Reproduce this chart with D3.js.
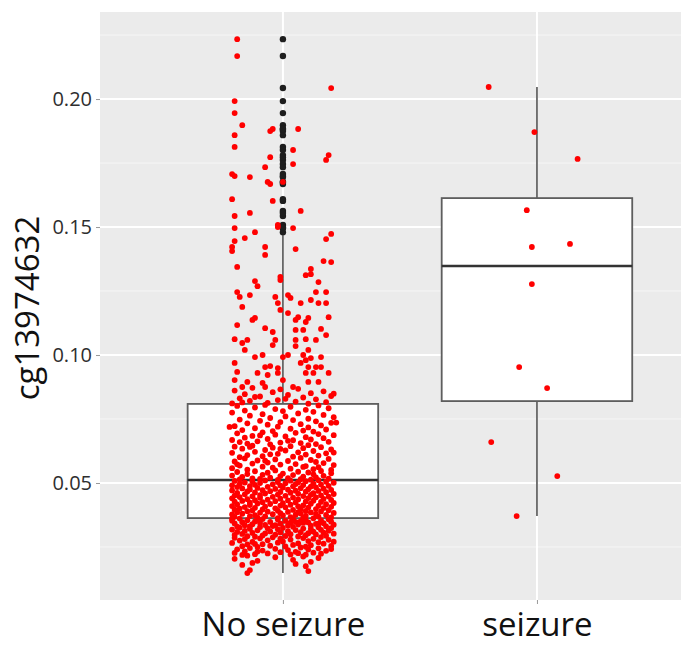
<!DOCTYPE html>
<html>
<head>
<meta charset="utf-8">
<script src="https://cdn.jsdelivr.net/npm/d3@7"></script>
<style>
  html, body { margin: 0; padding: 0; background: #fff; }
  svg { display: block; font-family: "Open Sans", "Noto Sans", sans-serif; }
</style>
</head>
<body>
<div id="chart"></div>
<script>
// categories and axis ticks
const categories = ["No seizure", "seizure"];
const yTicks = [0.05, 0.10, 0.15, 0.20];
const yMinorTicks = [0.025, 0.075, 0.125, 0.175, 0.225];

// box stats: [lower whisker, q1, median, q3, upper whisker]
const noSeizureBox = [0.0148, 0.0363, 0.0512, 0.0809, 0.1478];
const seizureBox   = [0.0371, 0.0820, 0.1348, 0.1613, 0.2047];

// jittered points: [value x 1e4, jitter in % of category step]
const seizurePts = [
  [2047,-19],[1871,-1],[1766,16],[1566,-4],[1422,-2],[1434,13],
  [1277,-2],[953,-7],[871,4],[660,-18],[527,8],[371,-8]
];

const noSeizurePts = [
  // upper tail
  [2234,-18],[2168,-18],[2043,19],[1992,-19],[1945,-19],[1898,-16],[1883,-4],[1875,-5],
  [1883,6],[1859,-19],[1813,-19],[1801,4],[1781,18],[1762,17],[1773,-5],[1746,4],
  [1734,-7],[1707,-20],[1699,-19],[1695,-13],[1676,-6],[1668,-5],[1676,0],[1609,-20],
  [1602,-4],[1563,7],[1543,-19],[1555,-13],[1508,-2],[1500,-2],[1496,4],[1496,-19],
  [1480,-11],[1473,19],[1457,-15],[1453,17],[1445,-19],[1422,-20],[1422,-7],[1414,5],
  [1406,-20],[1391,-7],[1367,16],[1363,19],[1344,-18],[1336,11],
  // 0.087 - 0.131
  [1305,-1],[1293,-1],[1289,-11],[1269,-10],[1312,9],[1316,11],[1285,14],[1246,-18],
  [1234,-13],[1227,-17],[1227,-3],[1234,2],[1223,3],[1246,13],[1246,17],[1215,11],
  [1203,14],[1203,17],[1188,-16],[1203,-2],[1203,7],[1176,-1],[1164,2],[1145,-11],
  [1137,-12],[1148,6],[1145,10],[1129,9],[1148,18],[1117,-18],[1137,5],[1105,-7],
  [1090,-4],[1098,5],[1098,8],[1102,15],[1078,17],[1062,-19],[1059,-14],[1047,-16],
  [1059,-3],[1059,5],[1062,9],[1059,13],[1020,-15],[1039,-4],[1035,5],[1020,10],
  [992,-11],[1000,-8],[992,0],[1000,2],[1000,8],[988,11],[992,15],[980,9],
  [969,-19],[953,-7],[957,-5],[949,-2],[969,7],[953,10],[953,13],[953,15],
  [934,-18],[930,-10],[922,-6],[930,-2],[930,9],[930,12],[930,18],[902,-19],
  [895,-14],[891,-8],[902,0],[895,10],[895,14],[875,-16],[875,-7],[875,4],
  // 0.081 - 0.087
  [872,-12],[868,6],[861,-19],[858,16],[855,-4],[851,11],[847,-15],[844,2],[840,19],
  [838,-9],[834,8],[831,-17],[827,13],[824,-2],[821,-13],[818,5],[816,17],[813,-6],
  [811,-20],[810,10],[866,-1],[849,20],[836,-11],[829,1],[815,-16],
  // median - q3
  [805,-7],[803,14],[801,-18],[798,3],[795,-11],[792,18],[789,-3],[786,9],[783,-15],
  [781,0],[778,12],[775,-20],[772,6],[769,-8],[766,16],[763,-13],[760,1],[757,20],
  [754,-5],[751,10],
  [748,-17],[746,4],[743,-9],[741,13],[738,-1],[735,19],[733,-14],[730,7],[728,-6],
  [725,15],[722,-19],[720,-2],[717,10],[714,-11],[712,3],[709,17],[707,-16],[705,8],
  [703,-4],[701,12],[719,-21],[736,21],
  [698,-8],[696,5],[694,-18],[691,14],[689,-3],[687,20],[684,-12],[682,1],[679,9],
  [677,-15],[675,16],[672,-6],[670,11],[668,-20],[665,2],[663,-10],[661,18],[658,-1],
  [656,7],[654,-14],[652,13],[651,-5],[667,4],[686,-9],[660,-17],
  [648,10],[646,-12],[644,3],[642,-19],[640,15],[638,-4],[636,8],[634,-16],[631,19],
  [629,-7],[627,1],[625,12],[622,-11],[620,6],[618,-20],[616,17],[614,-2],[611,9],
  [609,-14],[607,14],[605,-8],[603,4],[601,-17],[633,-1],[619,20],[641,-13],[612,-5],
  [598,7],[596,-15],[594,18],[592,-3],[590,11],[588,-10],[586,2],[584,-19],[582,13],
  [580,-6],[578,16],[576,-12],[574,5],[572,-1],[570,20],[568,-17],[566,9],[564,-8],
  [562,14],[560,-4],[558,-20],[556,3],[554,12],[552,-14],[551,19],[587,-7],[573,-18],
  [563,8],
  [549,-3],[547,15],[546,-11],[544,6],[543,-18],[541,10],[540,-6],[538,19],[537,0],
  [535,-14],[534,12],[532,-8],[531,4],[529,-20],[528,16],[527,-1],[525,8],[524,-16],
  [522,13],[521,-5],[519,2],[518,-12],[517,18],[516,-9],[515,7],[514,-17],[513,11],
  [512,-2],
  // q1 - median
  [511,14],[510,-7],[509,3],[508,-19],[507,9],[506,-12],[505,17],[504,-2],[503,6],
  [502,-15],[501,20],[500,-9],[499,1],[498,12],[497,-17],[496,5],[495,-4],[494,15],
  [493,-11],[492,8],[491,-20],[490,-1],[489,18],[488,-13],[487,4],[486,11],[485,-6],
  [484,-18],[483,13],[482,0],[481,-10],
  [480,7],[479,-16],[478,16],[477,-3],[476,10],[475,-13],[474,2],[473,19],[472,-8],
  [471,-20],[470,5],[469,14],[468,-5],[467,-14],[466,9],[465,-1],[464,17],[463,-11],
  [462,3],[461,-18],[460,12],[459,-7],[458,6],[457,20],[456,-15],[455,-2],[454,11],
  [453,-9],[452,15],[451,-19],
  [450,1],[449,8],[448,-12],[447,18],[446,-4],[445,-17],[444,13],[443,4],[442,-9],
  [441,10],[440,-20],[439,-1],[438,16],[437,-14],[436,6],[435,-6],[434,19],[433,-11],
  [432,2],[431,12],[430,-16],[429,-3],[428,9],[427,-19],[426,15],[425,-8],[424,5],
  [423,-13],[422,20],[421,0],
  [420,-10],[419,11],[418,-5],[417,17],[416,-18],[415,3],[414,-13],[413,8],[412,-1],
  [411,14],[410,-20],[409,6],[408,-7],[407,19],[406,-15],[405,1],[404,10],[403,-11],
  [402,16],[401,-3],[400,-17],[399,7],[398,13],[397,-8],[396,-19],[395,4],[394,18],
  [393,-12],[392,-2],[391,9],
  [390,-14],[389,15],[388,-6],[387,2],[386,-18],[385,11],[384,-9],[383,20],[382,-1],
  [381,7],[380,-16],[379,13],[378,-4],[377,-20],[376,5],[375,17],[374,-11],[373,0],
  [372,9],[371,-13],[370,-7],[369,14],[368,-19],[367,3],[366,19],[365,-10],[364,8],
  [363,-2],[386,6],
  // below q1
  [362,12],[361,-17],[360,4],[359,-8],[358,18],[357,-2],[356,9],[355,-14],[354,15],
  [353,-20],[352,1],[351,7],[350,-11],[349,19],[348,-5],[347,-16],[346,10],[345,3],
  [344,-9],[343,16],[342,-19],[341,-1],[340,13],[339,-12],[338,6],[337,20],[336,-7],
  [335,-15],[334,2],[333,11],[332,-4],[331,17],[330,-18],[356,-10],[348,5],[341,14],
  [335,-3],[360,-20],[344,8],[331,-13],
  [329,4],[328,-9],[327,14],[326,-17],[325,0],[324,19],[323,-6],[322,8],[321,-13],
  [320,11],[319,-2],[318,-20],[317,15],[316,5],[315,-10],[314,18],[313,-15],[312,2],
  [311,-5],[310,12],[309,-18],[308,7],[307,-1],[306,16],[305,-12],[304,10],[303,-7],
  [302,20],[301,-16],[300,3],[299,13],[298,-3],[297,-19],[296,9],[295,-8],[294,17],
  [293,1],[292,-14],[291,6],[290,-11],
  [289,15],[288,-4],[286,-19],[285,8],[284,-9],[282,12],[281,-15],[279,3],[278,18],
  [276,-6],[275,-17],[273,10],[272,0],[270,-12],[269,14],[267,-2],[266,-20],[264,6],
  [263,16],[261,-8],[260,-14],[258,4],[257,11],[255,-5],[254,19],[253,-16],[252,1],
  [251,9],[250,-10],[271,20],[283,-1],[262,-11],
  [248,7],[246,-13],[245,14],[243,-3],[241,-18],[240,10],[238,2],[236,-8],[235,17],
  [233,-15],[231,5],[230,-1],[228,12],[227,-19],[225,-6],[224,15],[222,-11],[221,3],
  [220,9],[219,-16],[242,19],[232,-10],[226,6],
  [216,-14],[213,8],[210,-3],[207,14],[204,-19],[200,4],[196,-10],[192,11],[188,-12],
  [184,5],[180,-16],[175,9],[156,10],[160,-13],[148,-14]
];

const width = 681, height = 649;
const m = { top: 12, right: 0, bottom: 49, left: 100 };

const svg = d3.select("#chart").append("svg")
  .attr("width", width)
  .attr("height", height);

// x in category units (0 = No seizure, 1 = seizure)
const x = d3.scaleLinear()
  .domain([-0.72, 1.567])
  .range([m.left, width - m.right]);

const y = d3.scaleLinear()
  .domain([0.0043, 0.234])
  .range([height - m.bottom, m.top]);

// ----- panel background + grid -----
svg.append("rect")
  .attr("x", m.left).attr("y", m.top)
  .attr("width", width - m.left - m.right)
  .attr("height", height - m.top - m.bottom)
  .attr("fill", "#ebebeb");

svg.append("g").selectAll("line")
  .data(yMinorTicks).enter().append("line")
  .attr("x1", m.left).attr("x2", width - m.right)
  .attr("y1", d => y(d)).attr("y2", d => y(d))
  .attr("stroke", "#f6f6f6").attr("stroke-width", 1);

svg.append("g").selectAll("line")
  .data(yTicks).enter().append("line")
  .attr("x1", m.left).attr("x2", width - m.right)
  .attr("y1", d => y(d)).attr("y2", d => y(d))
  .attr("stroke", "#fff").attr("stroke-width", 2);

svg.append("g").selectAll("line")
  .data(categories).enter().append("line")
  .attr("x1", (d, i) => x(i)).attr("x2", (d, i) => x(i))
  .attr("y1", m.top).attr("y2", height - m.bottom)
  .attr("stroke", "#fff").attr("stroke-width", 2);

// ----- Y axis -----
const yAxis = svg.append("g")
  .attr("transform", `translate(${m.left},0)`)
  .call(d3.axisLeft(y).tickValues(yTicks).tickFormat(d3.format(".2f")).tickSize(4).tickPadding(4));

yAxis.select(".domain").remove();
yAxis.selectAll(".tick line").attr("stroke", "#999");
yAxis.selectAll("text")
  .attr("font-size", 20)
  .attr("fill", "#2e2e2e")
  .attr("font-family", "Open Sans, sans-serif");

// ----- X axis -----
const xAxis = svg.append("g")
  .attr("transform", `translate(0,${height - m.bottom})`)
  .call(d3.axisBottom(x).tickValues([0, 1]).tickFormat(i => categories[i]).tickSize(4).tickPadding(9));

xAxis.select(".domain").remove();
xAxis.selectAll(".tick line").attr("stroke", "#999");
xAxis.selectAll("text")
  .attr("font-size", 33)
  .attr("fill", "#111")
  .attr("font-family", "Open Sans, sans-serif");

// axis title
svg.append("text")
  .attr("transform", `translate(39,${(m.top + height - m.bottom) / 2 + 2}) rotate(-90)`)
  .attr("text-anchor", "middle")
  .attr("font-size", 33)
  .attr("fill", "#111")
  .text("cg13974632");

// ----- boxplots -----
const groups = [
  { cat: 0, box: noSeizureBox, pts: noSeizurePts },
  { cat: 1, box: seizureBox,   pts: seizurePts }
];
const halfBox = 0.375;

groups.forEach(g => {
  const [lo, q1, med, q3, hi] = g.box;
  const cx = x(g.cat);
  const bg = svg.append("g");

  // whiskers
  bg.append("line")
    .attr("x1", cx).attr("x2", cx)
    .attr("y1", y(q3)).attr("y2", y(hi))
    .attr("stroke", "#666").attr("stroke-width", 1.8);
  bg.append("line")
    .attr("x1", cx).attr("x2", cx)
    .attr("y1", y(q1)).attr("y2", y(lo))
    .attr("stroke", "#666").attr("stroke-width", 1.8);

  bg.append("rect")
    .attr("x", x(g.cat - halfBox))
    .attr("width", x(g.cat + halfBox) - x(g.cat - halfBox))
    .attr("y", y(q3))
    .attr("height", y(q1) - y(q3))
    .attr("fill", "#fff")
    .attr("stroke", "#5e5e5e")
    .attr("stroke-width", 1.8);

  bg.append("line")
    .attr("x1", x(g.cat - halfBox)).attr("x2", x(g.cat + halfBox))
    .attr("y1", y(med)).attr("y2", y(med))
    .attr("stroke", "#333").attr("stroke-width", 2.6);

  // outliers (black, on the centre line)
  const outliers = g.pts.filter(p => p[0] / 1e4 > hi || p[0] / 1e4 < lo);
  bg.selectAll("circle")
    .data(outliers).enter().append("circle")
    .attr("cx", cx)
    .attr("cy", d => y(d[0] / 1e4))
    .attr("r", 3.2)
    .attr("fill", "#1e1e1e");
});

// ----- jittered points -----
groups.forEach(g => {
  svg.append("g").selectAll("circle")
    .data(g.pts).enter().append("circle")
    .attr("cx", d => x(g.cat + d[1] / 100))
    .attr("cy", d => y(d[0] / 1e4))
    .attr("r", 2.9)
    .attr("fill", "#f00");
});
</script>
</body>
</html>
